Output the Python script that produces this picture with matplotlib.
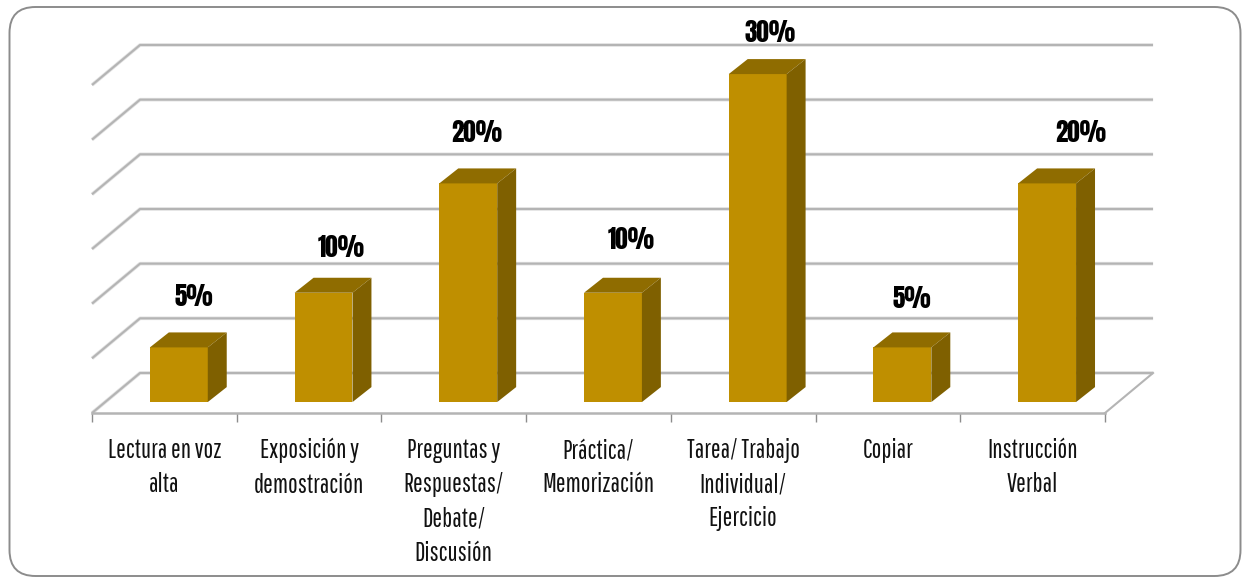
import matplotlib
matplotlib.use('Agg')
import matplotlib.pyplot as plt
from matplotlib.patches import FancyBboxPatch, Polygon
from matplotlib.transforms import IdentityTransform

categories = ['Lectura en voz\nalta', 'Exposición y\ndemostración', 'Preguntas y\nRespuestas/\nDebate/\nDiscusión',
              'Práctica/\nMemorización', 'Tarea/ Trabajo\nIndividual/\nEjercicio', 'Copiar', 'Instrucción\nVerbal']
values = [5, 10, 20, 10, 30, 5, 20]
value_labels = ['5%', '10%', '20%', '10%', '30%', '5%', '20%']
grid_values = [0, 5, 10, 15, 20, 25, 30]

# pixel nudges for the value labels, the original sits them unevenly
label_nudge = [(6, 36), (8, 30), (-1, 36), (9, 38), (3, 27), (0, 34), (24, 36)]

FONT = ['Pathway Gothic One', 'Liberation Sans', 'DejaVu Sans']
FONT_BOLD = ['Anton', 'Squada One', 'Liberation Sans', 'DejaVu Sans']
W, H = 1244, 578

fig = plt.figure(figsize=(W / 100, H / 100), dpi=100)
fig.patch.set_facecolor('white')

# rounded frame, in pixels, behind the axes
frame = FancyBboxPatch((9.5, H - 576), 1231, 569, boxstyle='round,pad=0,rounding_size=26',
                       transform=IdentityTransform(), fc='white', ec='#8c8c8c', lw=1.4, zorder=-1)
fig.add_artist(frame)

# 92..1105 px wide, floor front at y=413, 30 units at y=85
ax = fig.add_axes([92 / W, (H - 413) / H, (1105 - 92) / W, (413 - 85) / H])
ax.patch.set_alpha(0)
ax.set_xlim(-0.5, 6.5)
ax.set_ylim(0, 30)

floor_dx, floor_dy = 0.332, 3.66
bar_dx, bar_dy = 0.131, 1.37
bar_shift_x, bar_base = 0.10, 1.0
bar_w = 0.40
grid_c = '#b4b4b4'

# walls and floor
for g in grid_values:
    gy = g + floor_dy
    xs = [-0.5, -0.5 + floor_dx, 6.5 + floor_dx]
    ys = [g, gy, gy]
    ax.plot(xs, ys, color='#e2e2e2', lw=2.6, clip_on=False, zorder=1, solid_capstyle='butt')
    ax.plot(xs, ys, color=grid_c, lw=1.5, clip_on=False, zorder=1.1, solid_capstyle='butt')
ax.plot([6.5, 6.5 + floor_dx], [0, floor_dy], color=grid_c, lw=1.5, clip_on=False, zorder=1.1)

# bars, front face from the library and the 3d sides on top
x_pos = [i + bar_shift_x for i in range(len(values))]
bars = ax.bar(x_pos, values, width=bar_w, bottom=bar_base, color='#bf8f00', zorder=3)
for b in bars:
    b.set_clip_on(False)
for x, v in zip(x_pos, values):
    l, r = x - bar_w / 2, x + bar_w / 2
    t = bar_base + v
    ax.add_patch(Polygon([(l, t), (r, t), (r + bar_dx, t + bar_dy), (l + bar_dx, t + bar_dy)],
                         fc='#8f6c00', ec='none', zorder=3, clip_on=False))
    ax.add_patch(Polygon([(r, bar_base), (r + bar_dx, bar_base + bar_dy), (r + bar_dx, t + bar_dy), (r, t)],
                         fc='#7f6000', ec='none', zorder=3, clip_on=False))

for x, v, s, n in zip(x_pos, values, value_labels, label_nudge):
    ax.annotate(s, (x + bar_dx / 2, bar_base + v + bar_dy), xytext=n, textcoords='offset pixels',
                ha='center', va='center', family=FONT_BOLD, fontsize=18,
                color='black', annotation_clip=False)

# axis: ticks between the categories, labels centred on them
for side in ['top', 'left', 'right']:
    ax.spines[side].set_visible(False)
ax.spines['bottom'].set_color(grid_c)
ax.spines['bottom'].set_linewidth(1.8)
ax.set_yticks([])
ax.set_xticks(range(len(categories)))
ax.set_xticklabels(categories, family=FONT, fontsize=18.5, color='#111111', linespacing=1.46, va='top')
ax.set_xticks([i - 0.5 for i in range(len(categories) + 1)], minor=True)
ax.tick_params(axis='x', which='major', length=0, pad=18)
ax.tick_params(axis='x', which='minor', length=6.5, width=1, color='#8c8c8c')

fig.savefig('out.png', dpi=100)
